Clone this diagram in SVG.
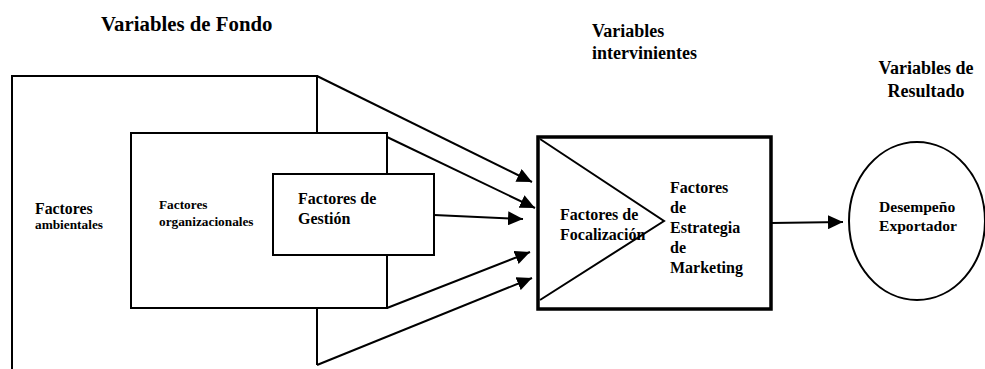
<svg xmlns="http://www.w3.org/2000/svg" width="985" height="369" viewBox="0 0 985 369">
<style>
text{font-family:'Liberation Serif','Times New Roman',Tinos,'DejaVu Serif',serif;font-weight:700;fill:#000}
.ln{fill:none;stroke:#000;stroke-width:2}
.box{fill:#fff;stroke:#000;stroke-width:2}
.t18{font-size:18px}
.t16{font-size:16px}
.t13{font-size:13.3px}
</style>
<defs>
<marker id="ah" markerUnits="userSpaceOnUse" markerWidth="16" markerHeight="14" refX="15" refY="7" orient="auto">
<path d="M0,0 L15,7 L0,14 z" fill="#000"/>
</marker>
</defs>
<rect width="985" height="369" fill="#fff"/>
<g id="titles">
<text x="101" y="31" style="font-size:20.8px">Variables de Fondo</text>
<text x="592" y="37" class="t18">Variables</text>
<text x="592" y="59" class="t18">intervinientes</text>
<text x="926" y="74" class="t18" text-anchor="middle">Variables de</text>
<text x="926" y="97" class="t18" text-anchor="middle">Resultado</text>
</g>
<g id="ambientales">
<path class="ln" d="M12,369 V76 H317 V365"/>
<text x="35" y="214" style="font-size:15.8px">Factores</text>
<text x="35" y="229" class="t13">ambientales</text>
</g>
<g id="organizacionales">
<rect class="box" x="131" y="133" width="256" height="175"/>
<text x="159" y="209" class="t13">Factores</text>
<text x="159" y="226" class="t13">organizacionales</text>
</g>
<g id="gestion">
<rect class="box" x="273" y="174" width="161" height="81"/>
<text x="298" y="204" class="t16">Factores de</text>
<text x="298" y="224" class="t16">Gestión</text>
</g>
<g id="connectors">
<line class="ln" x1="317" y1="76" x2="532" y2="182" marker-end="url(#ah)"/>
<line class="ln" x1="387" y1="137" x2="535" y2="208" marker-end="url(#ah)"/>
<line class="ln" x1="434" y1="215" x2="523" y2="219" marker-end="url(#ah)"/>
<line class="ln" x1="387" y1="308" x2="530" y2="252" marker-end="url(#ah)"/>
<line class="ln" x1="317" y1="365" x2="532" y2="278" marker-end="url(#ah)"/>
<line class="ln" x1="771" y1="223" x2="843" y2="222" marker-end="url(#ah)"/>
</g>
<g id="estrategia">
<rect x="538" y="137" width="233" height="172" fill="#fff" stroke="#000" stroke-width="3.5"/>
<text x="670" y="193" class="t16">Factores</text>
<text x="670" y="213" class="t16">de</text>
<text x="670" y="233" class="t16">Estrategia</text>
<text x="670" y="253" class="t16">de</text>
<text x="670" y="273" class="t16">Marketing</text>
</g>
<g id="focalizacion">
<text x="560" y="220" class="t16">Factores de</text>
<text x="560" y="240" class="t16">Focalización</text>
<path class="ln" d="M540,139 L664,221 L540,300"/>
</g>
<g id="desempeno">
<ellipse class="ln" cx="917" cy="221" rx="68" ry="79"/>
<text x="879" y="212" style="font-size:15.6px">Desempeño</text>
<text x="879" y="231" style="font-size:15.6px">Exportador</text>
</g>
</svg>
